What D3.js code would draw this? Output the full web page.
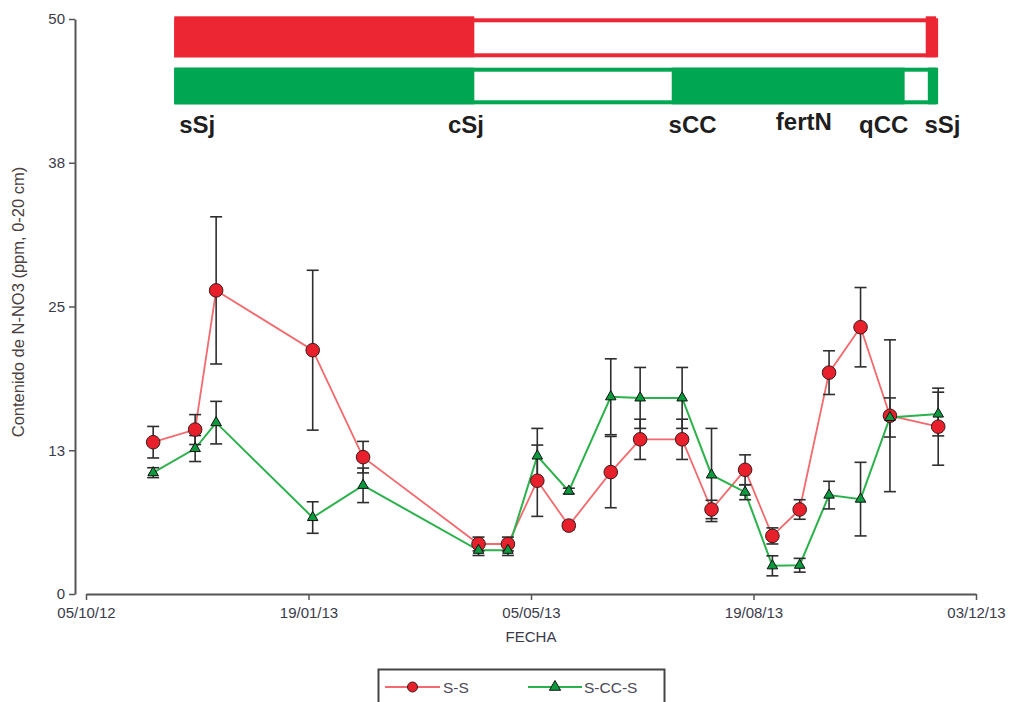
<!DOCTYPE html>
<html>
<head>
<meta charset="utf-8">
<script src="https://cdn.jsdelivr.net/npm/d3@7"></script>
<style>
  html, body { margin: 0; padding: 0; background: #fff; }
  svg { display: block; font-family: "Liberation Sans", Arial, sans-serif; }
</style>
</head>
<body>
<svg id="chart" width="1011" height="702"></svg>
<script>
// Sampling dates (dd/mm/yy shown on axis)
const sampleDates = [
  "2012-11-06", "2012-11-26", "2012-12-06", "2013-01-21", "2013-02-14",
  "2013-04-10", "2013-04-24", "2013-05-08", "2013-05-23", "2013-06-12",
  "2013-06-26", "2013-07-16", "2013-07-30", "2013-08-15", "2013-08-28",
  "2013-09-10", "2013-09-24", "2013-10-09", "2013-10-23", "2013-11-15"
];

// N-NO3 (ppm, 0-20 cm), soybean-soybean
const ssValues = [13.2, 14.3, 26.4, 21.2, 11.9, 4.35, 4.35, 9.85, 5.95, 10.6,
                  13.45, 13.45, 7.35, 10.8, 5.05, 7.35, 19.25, 23.2, 15.5, 14.55];
const ssErrors = [1.37, 1.3, 6.4, 6.95, 1.37, 0.6, 0.6, 3.1, 0.35, 3.1,
                  1.75, 1.75, 0.8, 1.3, 0.7, 0.85, 1.9, 3.45, 6.6, 3.35];

// N-NO3 (ppm, 0-20 cm), soybean-cover crop-soybean
const sccsValues = [10.55, 12.65, 14.9, 6.65, 9.45, 3.8, 3.8, 12.0, 8.95, 17.15,
                    17.05, 17.05, 10.35, 8.85, 2.45, 2.5, 8.6, 8.25, 15.35, 15.65];
const sccsErrors = [0.43, 1.13, 1.85, 1.37, 1.5, 0.45, 0.45, 2.4, 0.25, 3.3,
                    2.65, 2.65, 4.05, 0.65, 0.87, 0.6, 1.2, 3.2, 1.7, 1.9];

const seriesNames = ["S-S", "S-CC-S"];

// Axis ticks
const xTickDates = ["2012-10-05", "2013-01-19", "2013-05-05", "2013-08-19", "2013-12-03"];
const yTickValues = [0, 12.5, 25, 37.5, 50];

// Crop periods drawn as bars above the plot (filled = crop on the ground)
const ssPeriods = [
  { start: "2012-11-17", end: "2013-04-08", crop: true },
  { start: "2013-04-08", end: "2013-11-10", crop: false },
  { start: "2013-11-10", end: "2013-11-14", crop: true }
];
const sccsPeriods = [
  { start: "2012-11-17", end: "2013-04-08", crop: true },
  { start: "2013-04-08", end: "2013-07-12", crop: false },
  { start: "2013-07-12", end: "2013-10-30", crop: true },
  { start: "2013-10-30", end: "2013-11-11", crop: false },
  { start: "2013-11-11", end: "2013-11-14", crop: true }
];

// Management events: sowing / harvest of soybean and cover crop, N fertilisation
const eventLabels = ["sSj", "cSj", "sCC", "fertN", "qCC", "sSj"];
const eventDates = ["2012-11-27", "2013-04-04", "2013-07-21", "2013-09-12", "2013-10-20", "2013-11-17"];

const parse = d3.timeParse("%Y-%m-%d");
const fmt = d3.timeFormat("%d/%m/%y");

const RED = "#ec2733";
const GREEN = "#00a651";
const RED_LINE = "#f26a6e";
const GREEN_LINE = "#2bb24c";

const svg = d3.select("#chart");

const x = d3.scaleTime()
  .domain([parse(xTickDates[0]), parse(xTickDates[xTickDates.length - 1])])
  .range([86, 976]);

const y = d3.scaleLinear().domain([0, 50]).range([594, 19]);

// ---- axes ----
const yAxis = d3.axisLeft(y)
  .tickValues(yTickValues)
  .tickFormat(d => Math.round(d))
  .tickSize(6)
  .tickSizeOuter(0);

const gy = svg.append("g").attr("transform", "translate(75,0)").call(yAxis);

const xAxis = d3.axisBottom(x)
  .tickValues(xTickDates.map(parse))
  .tickFormat(fmt)
  .tickSize(6)
  .tickSizeOuter(0);

const gx = svg.append("g").attr("transform", "translate(0,594)").call(xAxis);

[gx, gy].forEach(g => {
  g.select(".domain").attr("stroke", "#555").attr("stroke-width", 2);
  g.selectAll(".tick line").attr("stroke", "#555").attr("stroke-width", 1.5);
  g.selectAll(".tick text")
    .attr("fill", "#3a3a4a")
    .style("font-size", "15px")
    .style("font-family", "'Liberation Sans', Arial, sans-serif");
});
gx.selectAll(".tick text").attr("dy", "1.0em");
gy.selectAll(".tick text").attr("dx", "-1px");

svg.append("text")
  .attr("transform", "translate(24,302) rotate(-90)")
  .attr("text-anchor", "middle")
  .attr("fill", "#4a4040")
  .style("font-size", "16.5px")
  .text("Contenido de N-NO3 (ppm, 0-20 cm)");

svg.append("text")
  .attr("x", 531)
  .attr("y", 642)
  .attr("text-anchor", "middle")
  .attr("fill", "#3a3a4a")
  .style("font-size", "15px")
  .text("FECHA");

// ---- crop period bars ----
function drawPeriods(periods, color, top, height, filledFullHeight) {
  const g = svg.append("g");
  const x0 = x(parse(periods[0].start));
  const x1 = x(parse(periods[periods.length - 1].end));
  // outline of the whole season
  g.append("rect")
    .attr("x", x0).attr("y", top)
    .attr("width", x1 - x0).attr("height", height)
    .attr("fill", "#fff")
    .attr("stroke", color).attr("stroke-width", 4);
  periods.filter(p => p.crop).forEach(p => {
    const a = x(parse(p.start)), b = x(parse(p.end));
    g.append("rect")
      .attr("x", a - 2).attr("y", top - 2 - filledFullHeight)
      .attr("width", b - a + 2).attr("height", height + 4 + filledFullHeight)
      .attr("fill", color);
  });
  return g;
}
drawPeriods(ssPeriods, RED, 20.3, 35, 2);
drawPeriods(sccsPeriods, GREEN, 69.7, 32.6, 0);

svg.append("g").selectAll("text")
  .data(eventLabels)
  .join("text")
  .attr("x", (d, i) => x(parse(eventDates[i])))
  .attr("y", d => d === "fertN" ? 130 : 133)
  .attr("text-anchor", "middle")
  .attr("fill", "#1e1e1e")
  .style("font-size", "24px")
  .style("font-weight", "bold")
  .text(d => d);

// ---- series ----
const dates = sampleDates.map(parse);
const series = [
  { name: seriesNames[0], values: ssValues, errors: ssErrors, line: RED_LINE, fill: "#e8202b", shape: "circle" },
  { name: seriesNames[1], values: sccsValues, errors: sccsErrors, line: GREEN_LINE, fill: "#0b9a3d", shape: "triangle" }
];

const line = d3.line().x(d => x(d.date)).y(d => y(d.value));

series.forEach(s => {
  s.points = dates.map((d, i) => ({ date: d, value: s.values[i], err: s.errors[i] }));
});

series.forEach(s => {
  svg.append("path")
    .datum(s.points)
    .attr("fill", "none")
    .attr("stroke", s.line)
    .attr("stroke-width", s.shape === "circle" ? 1.8 : 2)
    .attr("d", line);
});

// error bars
series.forEach(s => {
  const g = svg.append("g").attr("stroke", "#2e2e2e").attr("stroke-width", 1.6);
  s.points.forEach(p => {
    const cx = x(p.date), yt = y(p.value + p.err), yb = y(p.value - p.err);
    g.append("line").attr("x1", cx).attr("x2", cx).attr("y1", yt).attr("y2", yb);
    g.append("line").attr("x1", cx - 6).attr("x2", cx + 6).attr("y1", yt).attr("y2", yt);
    g.append("line").attr("x1", cx - 6).attr("x2", cx + 6).attr("y1", yb).attr("y2", yb);
  });
});

const triangle = d3.symbol().type(d3.symbolTriangle).size(48);

series.forEach(s => {
  const g = svg.append("g");
  if (s.shape === "circle") {
    g.selectAll("circle").data(s.points).join("circle")
      .attr("cx", d => x(d.date)).attr("cy", d => y(d.value))
      .attr("r", 6.8)
      .attr("fill", s.fill).attr("stroke", "#3a1a1a").attr("stroke-width", 1);
  } else {
    g.selectAll("path").data(s.points).join("path")
      .attr("transform", d => `translate(${x(d.date)},${y(d.value)})`)
      .attr("d", triangle)
      .attr("fill", s.fill).attr("stroke", "#111").attr("stroke-width", 1);
  }
});

// ---- legend ----
const lg = svg.append("g");
lg.append("rect")
  .attr("x", 378.5).attr("y", 669.5)
  .attr("width", 286).attr("height", 50)
  .attr("fill", "#fff").attr("stroke", "#444").attr("stroke-width", 2);

const legendItems = [
  { s: series[0], x0: 385, x1: 440, text: 443 },
  { s: series[1], x0: 528, x1: 582, text: 584 }
];
legendItems.forEach(it => {
  const ly = 687;
  lg.append("line").attr("x1", it.x0).attr("x2", it.x1).attr("y1", ly).attr("y2", ly)
    .attr("stroke", it.s.line).attr("stroke-width", 2);
  const mx = (it.x0 + it.x1) / 2;
  if (it.s.shape === "circle") {
    lg.append("circle").attr("cx", mx).attr("cy", ly).attr("r", 5)
      .attr("fill", it.s.fill).attr("stroke", "#3a1a1a").attr("stroke-width", 1);
  } else {
    lg.append("path").attr("transform", `translate(${mx},${ly})`)
      .attr("d", d3.symbol().type(d3.symbolTriangle).size(55)())
      .attr("fill", it.s.fill).attr("stroke", "#111").attr("stroke-width", 1);
  }
  lg.append("text").attr("x", it.text).attr("y", ly + 5.5)
    .attr("fill", "#4a4a5a")
    .style("font-size", "15.5px")
    .text(it.s.name);
});
</script>
</body>
</html>
